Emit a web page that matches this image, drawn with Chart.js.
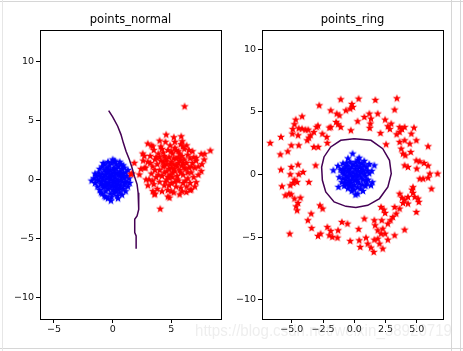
<!DOCTYPE html>
<html><head><meta charset="utf-8">
<script src="https://cdn.jsdelivr.net/npm/chart.js@4/dist/chart.umd.min.js"></script>
<style>
html,body{margin:0;padding:0;background:#fff;}
body{width:463px;height:351px;overflow:hidden;position:relative;font-family:"DejaVu Sans",sans-serif;}
canvas{position:absolute;top:0;}
.ln{position:absolute;background:#d6d6d6;}
#wm{position:absolute;left:195px;top:321px;font-family:"Liberation Sans",Arial,sans-serif;font-size:17px;color:rgba(170,170,170,0.2);white-space:nowrap;transform-origin:0 0;z-index:5;}
</style></head>
<body>
<div class="ln" style="left:0;top:1px;width:463px;height:1px"></div>
<div class="ln" style="left:0;top:348px;width:463px;height:1px"></div>
<div class="ln" style="left:2px;top:0;width:1px;height:351px;background:#e6e6e6"></div>
<div class="ln" style="left:451px;top:0;width:1px;height:351px"></div>
<div class="ln" style="left:460px;top:0;width:1px;height:351px"></div>
<canvas id="c1" width="231" height="351" style="left:0"></canvas>
<canvas id="c2" width="232" height="351" style="left:231px"></canvas>
<div id="wm">https://blog.csdn.net/weixin_38920719</div>
<script>
// ---------- data ----------
const normalTitle = 'points_normal';
const ringTitle = 'points_ring';
const normalXTicks = [-5, 0, 5];
const normalYTicks = [-10, -5, 0, 5, 10];
const ringXTicks = [-5, -2.5, 0, 2.5, 5];
const ringYTicks = [-10, -5, 0, 5, 10];

const normalBlue = [[-1.8,-0.1],[-1.6,0.1],[-1.5,-0.3],[-1.4,0.3],[-1.3,-0.6],[-1.2,0.6],[-1.2,-0.1],[-1.1,0.9],[-1.1,-0.9],[-1.0,0.2],[-1.0,-0.4],[-0.9,1.1],[-0.9,-1.2],[-0.9,0.5],[-0.8,-0.7],[-0.8,0.0],[-0.7,1.3],[-0.7,-1.4],[-0.7,0.8],[-0.6,-0.2],[-0.6,0.4],[-0.6,-1.0],[-0.5,1.0],[-0.5,-0.5],[-0.5,0.1],[-0.4,1.5],[-0.4,-1.6],[-0.4,0.6],[-0.4,-0.8],[-0.3,0.2],[-0.3,-0.3],[-0.3,1.2],[-0.2,-1.2],[-0.2,0.8],[-0.2,-0.6],[-0.1,0.0],[-0.1,1.4],[-0.1,-1.5],[-0.1,0.5],[0.0,-0.9],[0.0,1.7],[0.0,0.3],[0.0,-0.3],[0.1,1.0],[0.1,-1.2],[0.1,0.6],[0.1,-0.1],[0.2,1.5],[0.2,-0.6],[0.2,0.2],[0.3,-1.0],[0.3,0.9],[0.3,-0.4],[0.3,1.3],[0.4,0.0],[0.4,-1.4],[0.4,0.5],[0.5,1.1],[0.5,-0.8],[0.5,-0.2],[0.6,0.7],[0.6,-1.1],[0.6,0.3],[0.7,1.3],[0.7,-0.5],[0.7,0.0],[0.8,-1.3],[0.8,0.9],[0.8,-0.2],[0.9,0.5],[0.9,-0.8],[1.0,1.0],[1.0,0.1],[1.0,-0.5],[1.1,-1.0],[1.1,0.6],[1.2,-0.2],[1.2,0.3],[1.3,0.8],[1.3,-0.6],[1.4,0.1],[-1.3,0.0],[-0.2,0.0],[0.2,-0.2],[-0.6,-1.5],[0.6,1.5],[-1.0,-1.1],[0.9,1.2],[-0.8,1.4],[0.45,-1.6],[-1.5,0.5],[1.45,-0.3],[-0.15,-1.8],[0.15,1.6],[-0.65,-0.55],[0.55,0.45],[-0.35,0.85],[0.35,-0.75],[-1.15,0.35],[-0.95,-0.15],[-0.75,0.25],[-0.45,-0.35],[-0.25,0.35],[0.05,0.85],[0.25,0.55],[0.45,-0.45],[0.65,-0.75],[0.85,0.25],[1.05,-0.25],[-0.85,-0.45],[-0.55,0.65],[0.15,-0.95],[0.75,0.55],[-0.05,-0.55]];

const normalRed = [[6.13,6.21],[1.85,1.41],[1.65,0.51],[1.55,0.45],[2.28,0.42],[2.56,2.2],[2.99,3.05],[3.42,2.82],[4.56,3.81],[5.21,3.59],[5.84,3.67],[5.93,3.25],[5.98,2.82],[8.32,2.46],[7.55,2.18],[7.83,2.18],[7.12,1.84],[7.55,0.71],[7.12,-0.23],[6.7,-0.85],[6.27,-1.07],[5.7,-1.27],[4.84,-1.55],[4.7,-1.45],[3.56,-1.27],[4.05,-2.49],[2.71,0.99],[2.85,0.0],[3.42,-0.99],
[3.0,1.5],[3.2,2.0],[3.3,0.5],[3.4,1.1],[3.5,-0.4],[3.5,2.5],[3.6,1.7],[3.7,0.2],[3.8,1.3],[3.8,-0.8],[3.9,2.2],[4.0,0.8],[4.0,-0.2],[4.1,1.6],[4.1,2.8],[4.2,0.3],[4.2,-1.0],[4.3,1.1],[4.3,2.3],[4.4,0.6],[4.4,-0.5],[4.5,1.8],[4.5,3.2],[4.6,0.0],[4.6,1.3],[4.7,2.5],[4.7,-0.9],[4.8,0.9],[4.8,1.9],[4.9,0.4],[4.9,2.9],[5.0,-0.3],[5.0,1.5],[5.0,1.0],[5.1,2.2],[5.1,0.2],[5.2,-1.1],[5.2,1.3],[5.3,0.7],[5.3,2.7],[5.4,1.8],[5.4,-0.6],[5.5,0.3],[5.5,1.1],[5.6,2.4],[5.6,-0.1],[5.7,1.6],[5.7,0.8],[5.8,3.0],[5.8,-0.7],[5.9,1.2],[5.9,2.0],[6.0,0.4],[6.0,-0.3],[6.1,1.7],[6.1,2.6],[6.2,0.9],[6.3,-0.6],[6.3,1.4],[6.4,2.1],[6.4,0.1],[6.5,1.0],[6.6,-0.3],[6.6,1.8],[6.7,0.6],[6.8,1.4],[6.8,2.4],[6.9,0.2],[7.0,1.0],[7.0,-0.6],[7.1,1.6],[7.3,0.4],[7.3,1.1],[3.1,0.0],[3.3,2.9],[3.6,-1.2],[2.8,1.0],[2.7,2.0],[3.0,-0.5],[4.0,3.3],[5.3,3.2],[6.3,2.9],[6.6,-0.9],[5.0,-1.0],[4.4,2.0],[4.6,0.7],[4.9,1.3],[5.2,1.8],[5.5,0.0],[5.6,1.4],[5.8,0.6],[6.1,1.0],[4.3,1.5],[4.7,0.2],[5.4,2.5],[4.8,-0.5],[5.9,-1.0],[6.5,2.5],[3.9,0.4],[4.2,2.6],[5.1,0.6],[5.7,2.2],[6.2,-0.1],[4.5,-0.2],[5.3,-0.2],[3.7,1.9],[6.9,1.9],[7.6,1.3],[7.8,1.7],[3.4,-0.1],[2.6,1.6],[2.4,0.9],[3.6,0.8],[4.0,1.9],[4.4,1.2],[4.8,0.2],[5.2,0.9],[5.6,1.9],[6.0,1.4],[6.4,0.6],[5.0,2.4],[4.6,1.6],[5.4,1.2],[5.8,1.7],[3.2,1.4],[6.7,1.1]];

const normalBoundary = [[-0.34,5.85],[0.0,5.31],[0.43,4.52],[0.71,3.81],[0.91,3.11],[1.14,2.4],[1.42,1.69],[1.65,0.99],[1.85,0.28],[2.08,-0.42],[2.17,-1.13],[2.22,-2.54],[2.08,-3.11],[1.88,-3.39],[1.88,-4.52],[2.0,-4.8],[2.0,-5.88]];

const ringBlue = [[-0.13,1.68],[-1.26,-0.98],[-1.67,0.35],[1.61,0.74],[1.2,0.85],[0.27,-1.52],[0.1,-1.6],[1.34,-0.85],[1.45,-0.6],[-0.5,1.3],[0.4,1.35],[0.8,1.1],[-0.9,0.9],[-1.1,0.4],[-1.2,-0.2],[-1.0,-0.6],[-0.8,-0.9],[-0.5,-1.1],[0.0,-1.2],[0.5,-1.1],[0.9,-0.9],[1.1,-0.4],[1.2,0.1],[1.0,0.6],[0.6,0.9],[0.1,1.0],[-0.3,1.0],[-0.7,0.6],[-0.8,0.1],[-0.7,-0.4],[-0.4,-0.7],[0.0,-0.8],[0.4,-0.7],[0.7,-0.4],[0.8,0.1],[0.6,0.5],[0.2,0.7],[-0.2,0.6],[-0.5,0.3],[-0.5,-0.2],[-0.2,-0.4],[0.2,-0.4],[0.4,0.0],[0.3,0.3],[-0.1,0.2],[0.0,-0.1],[-0.3,0.0],[0.15,0.1],[-0.6,0.95],[0.9,-0.1],[-1.3,0.7],[1.4,0.3],[-0.2,-1.3],[0.7,-1.3],[0.3,1.2],[-0.9,-0.3],[1.0,-0.7],[-0.6,-0.8],[0.55,0.2],[-0.35,0.45],[0.25,-0.15],[-0.15,-0.2],[-0.95,0.15],[-0.75,-0.65],[-0.35,-0.9],[0.25,-1.0],[0.65,-0.8],[0.95,-0.45],[1.05,0.3],[0.8,0.75],[0.4,0.95],[-0.1,0.8],[-0.55,0.7],[-0.9,0.45],[-0.65,-0.1],[-0.4,0.15],[0.1,0.45],[0.55,-0.2],[0.3,-0.55],[-0.25,-0.65],[0.75,0.35],[-0.15,-1.0],[0.45,0.6],[-0.75,0.35],[0.05,-0.45],[-0.45,-0.5]];

const ringRed = [[-1.08,6.01],[0.35,6.06],[1.69,5.96],[3.41,6.09],[-2.8,5.53],[-0.19,5.64],[-0.11,5.4],[-0.32,5.27],[-0.67,5.13],[-1.88,5.13],[3.23,5.19],[-4.17,4.65],[-1.4,4.87],[-1.18,4.73],[1.21,4.87],[1.34,4.47],[1.29,4.07],[1.24,3.72],[0.27,4.26],[-1.99,3.75],[-1.45,4.2],[-1.29,4.02],[-1.08,3.8],[-3.01,3.8],[-2.9,3.91],[-3.23,3.4],[-4.68,4.39],[-4.78,4.02],[-4.92,3.64],[-4.44,3.7],[-4.17,3.67],[-3.9,3.59],[-3.68,3.59],[-4.95,3.27],[-4.49,3.14],[-3.49,3.14],[-3.63,2.95],[-3.76,2.74],[-5.86,3.01],[-5.03,2.34],[-4.44,2.34],[-6.72,2.53],[-5.91,1.62],[-5.32,1.86],[-2.88,2.21],[-3.23,2.21],[-2.15,2.53],[2.47,4.39],[2.96,4.07],[2.69,3.86],[2.85,3.64],[3.63,3.8],[3.82,3.64],[4.03,3.8],[4.78,3.75],[3.63,3.4],[3.39,3.22],[2.1,3.32],[4.57,3.27],[4.03,2.74],[3.63,2.61],[2.55,2.42],[4.44,2.47],[5.91,2.26],[4.97,2.74],[3.76,2.07],[3.9,1.68],[4.09,1.54],[4.52,1.81],[4.97,1.14],[5.24,1.06],[5.59,0.93],[5.91,0.72],[4.03,0.74],[4.3,0.61],[5.0,0.48],[6.05,0.08],[6.67,0.08],[5.24,-0.32],[5.51,-0.32],[5.91,-0.24],[6.18,-1.12],[4.62,-1.2],[4.7,-1.46],[4.84,-1.78],[5.11,-1.91],[5.16,-2.18],[4.3,-2.31],[4.97,-2.98],[3.63,-1.52],[3.82,-1.84],[4.03,-2.0],[3.9,-2.26],[3.23,-2.58],[3.63,-2.71],[2.15,-2.58],[2.37,-2.79],[2.47,-3.06],[3.36,-3.11],[3.09,-3.38],[2.9,-3.64],[2.69,-3.91],[2.2,-3.64],[1.61,-3.64],[0.81,-3.51],[1.67,-4.04],[1.88,-4.44],[2.15,-4.71],[2.47,-4.71],[2.28,-4.31],[4.03,-4.39],[3.23,-4.84],[2.69,-5.19],[1.88,-5.11],[1.61,-5.19],[2.02,-5.51],[2.28,-5.9],[0.94,-5.03],[1.08,-5.51],[1.34,-5.82],[1.56,-6.17],[0.48,-5.77],[0.4,-5.24],[-0.32,-5.29],[0.35,-4.34],[-0.54,-3.91],[-0.99,-3.78],[-1.29,-4.44],[-1.88,-4.49],[-2.15,-4.18],[-1.99,-4.84],[-1.75,-4.97],[-1.34,-5.03],[-2.9,-4.89],[-2.69,-4.71],[-3.41,-4.26],[-3.71,-3.64],[-3.44,-3.11],[-2.74,-2.45],[-2.53,-2.71],[-5.16,-4.71],[-4.57,-2.85],[-4.65,-2.53],[-4.49,-2.26],[-4.3,-1.84],[-4.78,-1.91],[-5.51,-1.65],[-5.22,-1.52],[-5.05,-1.57],[-5.78,-0.93],[-3.63,-0.59],[-4.57,-0.59],[-4.89,-0.66],[-4.78,-0.4],[-5.11,0.03],[-4.44,0.03],[-4.09,0.21],[-5.03,0.61],[-4.49,0.8],[-5.86,0.4],[-3.09,0.74],[-5.11,-0.85],[-2.55,3.27],[-2.2,3.01],[-1.88,3.8],[-0.27,3.54],[4.3,-1.78],[4.7,-1.0],[1.88,4.87],[0.81,4.6]];

const ringBoundary = [[0.0,2.87],[-1.08,2.74],[-1.88,2.21],[-2.42,1.41],[-2.61,0.61],[-2.55,-0.45],[-2.28,-1.38],[-1.61,-2.18],[-0.67,-2.53],[0.13,-2.63],[1.08,-2.45],[2.02,-1.91],[2.69,-0.98],[2.96,0.08],[2.82,1.14],[2.28,2.07],[1.34,2.74],[0.0,2.87]];

// ---------- styling helpers ----------
function makeStar(color){
  const c = document.createElement('canvas');
  c.width = 10; c.height = 10;
  const g = c.getContext('2d');
  const R = 4.3, r = R * 0.42, cx = 5, cy = 5.2;
  g.beginPath();
  for (let i = 0; i < 10; i++){
    const rad = i % 2 === 0 ? R : r;
    const a = -Math.PI / 2 + i * Math.PI / 5;
    const px = cx + rad * Math.cos(a), py = cy + rad * Math.sin(a);
    if (i === 0) g.moveTo(px, py); else g.lineTo(px, py);
  }
  g.closePath();
  g.fillStyle = color; g.fill();
  return c;
}
const starBlue = makeStar('#0000ff');
const starRed = makeStar('#ff0000');

const framePlugin = {
  id: 'frame',
  afterDraw(chart){
    const {ctx, chartArea: a} = chart;
    ctx.save();
    ctx.strokeStyle = '#000';
    ctx.lineWidth = 1;
    ctx.strokeRect(Math.round(a.left) + 0.5, Math.round(a.top) + 0.5, Math.round(a.right - a.left), Math.round(a.bottom - a.top));
    ctx.restore();
  }
};

const minus = s => s.replace('-', '\u2212');
const tickFont = {family: 'DejaVu Sans', size: 9.5};

function makeChart(id, title, blue, red, boundary, xTicks, yTicks, xFmt, xr, yr, yAxisW, padRight){
  const pts = arr => arr.map(p => ({x: p[0], y: p[1]}));
  return new Chart(document.getElementById(id), {
    type: 'scatter',
    data: {datasets: [
      {data: pts(boundary), showLine: true, borderColor: '#440154', borderWidth: 1.5, pointRadius: 0, tension: 0, fill: false},
      {data: pts(red), pointStyle: starRed, pointRadius: 4},
      {data: pts(blue), pointStyle: starBlue, pointRadius: 4}
    ]},
    options: {
      responsive: false, animation: false, events: [],
      layout: {padding: {left: 0, right: padRight, top: 0, bottom: 0}},
      plugins: {
        legend: {display: false}, tooltip: {enabled: false},
        title: {display: true, text: title, fullSize: false, color: '#000',
          font: {family: 'DejaVu Sans', size: 11.5, weight: 'normal', lineHeight: 1},
          padding: {top: 14, bottom: 4.5}}
      },
      scales: {
        x: {type: 'linear', min: xr[0], max: xr[1],
          afterBuildTicks: ax => { ax.ticks = xTicks.map(v => ({value: v})); },
          afterFit: s => { s.height = 32; },
          ticks: {callback: v => minus(xFmt(v)), font: tickFont, color: '#111', padding: 1, maxRotation: 0, autoSkip: false},
          grid: {drawOnChartArea: false, drawTicks: true, tickLength: 4, color: '#000'},
          border: {display: false}},
        y: {type: 'linear', min: yr[0], max: yr[1],
          afterBuildTicks: ax => { ax.ticks = yTicks.map(v => ({value: v})); },
          afterFit: s => { s.width = yAxisW; },
          ticks: {callback: v => minus(String(v)), font: tickFont, color: '#111', padding: 2, autoSkip: false},
          grid: {drawOnChartArea: false, drawTicks: true, tickLength: 4, color: '#000'},
          border: {display: false}}
      }
    },
    plugins: [framePlugin]
  });
}

makeChart('c1', normalTitle, normalBlue, normalRed, normalBoundary, normalXTicks, normalYTicks,
  v => String(v), [-6.19, 9.23], [-11.86, 12.7], 40, 10);
makeChart('c2', ringTitle, ringBlue, ringRed, ringBoundary, ringXTicks, ringYTicks,
  v => v.toFixed(1), [-7.38, 7.1], [-11.52, 11.54], 31, 20);

// fit watermark width
const wm = document.getElementById('wm');
const w = wm.getBoundingClientRect().width;
wm.style.transform = 'scaleX(' + (257 / w) + ')';
</script>
</body></html>
